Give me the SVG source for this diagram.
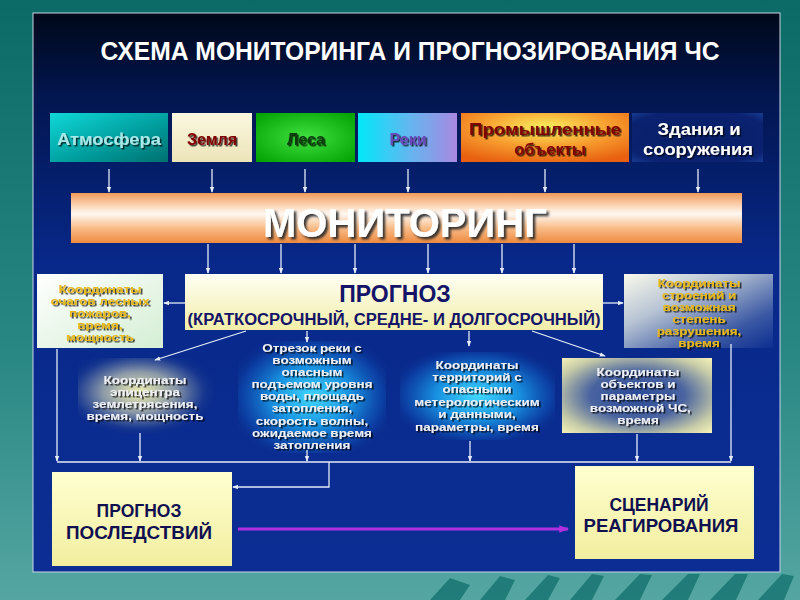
<svg xmlns="http://www.w3.org/2000/svg" width="800" height="600" viewBox="0 0 800 600">
<defs>
<style>
.t{font-family:"Liberation Sans",Arial,sans-serif;font-weight:bold;text-anchor:middle}
.c{stroke:#e4ecf8;stroke-width:1.3;fill:none}
.ca{stroke:#e4ecf8;stroke-width:1.3;fill:none;marker-end:url(#ah)}
.gold{fill:#e8b818;font-size:11.5px}
.wh{fill:#eef0f6;font-size:11.5px}
</style>
<linearGradient id="bg" x1="0" y1="0" x2="0" y2="1">
<stop offset="0" stop-color="#0c6a66"/><stop offset="0.6" stop-color="#2a8884"/><stop offset="1" stop-color="#55a6a2"/>
</linearGradient>
<linearGradient id="panel" x1="0" y1="0" x2="0" y2="1">
<stop offset="0" stop-color="#000818"/><stop offset="0.15" stop-color="#021650"/><stop offset="0.45" stop-color="#08288a"/><stop offset="1" stop-color="#0c2e94"/>
</linearGradient>
<linearGradient id="gAtm" x1="0" y1="0" x2="1" y2="1">
<stop offset="0" stop-color="#10d8d8"/><stop offset="0.6" stop-color="#009a9a"/><stop offset="1" stop-color="#007070"/>
</linearGradient>
<linearGradient id="gZem" x1="0" y1="0" x2="0" y2="1">
<stop offset="0" stop-color="#fbf8e0"/><stop offset="1" stop-color="#ece4b8"/>
</linearGradient>
<radialGradient id="gLes" cx="0.5" cy="0.5" r="0.7">
<stop offset="0" stop-color="#40e040"/><stop offset="1" stop-color="#00a000"/>
</radialGradient>
<linearGradient id="gRek" x1="0" y1="0" x2="1" y2="0">
<stop offset="0" stop-color="#00e8f8"/><stop offset="0.5" stop-color="#60b8f0"/><stop offset="1" stop-color="#a888e0"/>
</linearGradient>
<radialGradient id="gProm" cx="0.5" cy="0.3" r="0.75">
<stop offset="0" stop-color="#f8f060"/><stop offset="0.5" stop-color="#f8a030"/><stop offset="1" stop-color="#e86010"/>
</radialGradient>
<radialGradient id="gZd" cx="0.5" cy="0.5" r="0.7">
<stop offset="0" stop-color="#081e66"/><stop offset="0.8" stop-color="#0a2270"/><stop offset="1" stop-color="#183a90"/>
</radialGradient>
<linearGradient id="gMon" x1="0" y1="0" x2="0" y2="1">
<stop offset="0" stop-color="#f29a58"/><stop offset="0.3" stop-color="#fde0c8"/><stop offset="0.42" stop-color="#fff8f2"/><stop offset="0.7" stop-color="#f8bc88"/><stop offset="1" stop-color="#ee8a40"/>
</linearGradient>
<linearGradient id="gProg" x1="0" y1="0" x2="0" y2="1">
<stop offset="0" stop-color="#fffff4"/><stop offset="1" stop-color="#f2eea8"/>
</linearGradient>
<linearGradient id="gLeft" x1="0" y1="0" x2="1" y2="1">
<stop offset="0" stop-color="#ffffff"/><stop offset="1" stop-color="#d4eed4"/>
</linearGradient>
<linearGradient id="gRight" x1="0" y1="0" x2="1" y2="1">
<stop offset="0" stop-color="#fafaec"/><stop offset="0.35" stop-color="#b8c4d4"/><stop offset="0.75" stop-color="#3a58a4"/><stop offset="1" stop-color="#0c2e90"/>
</linearGradient>
<radialGradient id="gEpi" cx="0.45" cy="0.45" r="0.6">
<stop offset="0" stop-color="#f0f0b0"/><stop offset="0.45" stop-color="#8a98a8"/><stop offset="0.8" stop-color="#1a3a90" stop-opacity="0.8"/><stop offset="1" stop-color="#0a2a8c" stop-opacity="0"/>
</radialGradient>
<radialGradient id="gCyan" cx="0.5" cy="0.5" r="0.6">
<stop offset="0" stop-color="#40d8ff"/><stop offset="0.45" stop-color="#1890e0"/><stop offset="0.8" stop-color="#0c44a8" stop-opacity="0.8"/><stop offset="1" stop-color="#0a2a8c" stop-opacity="0"/>
</radialGradient>
<radialGradient id="gObj" cx="0.5" cy="0.5" r="0.7">
<stop offset="0" stop-color="#2a4a98"/><stop offset="0.45" stop-color="#4a64a0"/><stop offset="0.8" stop-color="#c8cca8"/><stop offset="1" stop-color="#f4f2b8"/>
</radialGradient>
<linearGradient id="gBot" x1="0" y1="0" x2="0" y2="1">
<stop offset="0" stop-color="#ffffd0"/><stop offset="1" stop-color="#f2eea0"/>
</linearGradient>
<filter id="sh" x="-10%" y="-20%" width="120%" height="150%">
<feDropShadow dx="1.5" dy="1.5" stdDeviation="0.5" flood-color="#000" flood-opacity="0.75"/>
</filter>
<filter id="shb" x="-10%" y="-20%" width="120%" height="150%">
<feDropShadow dx="2.5" dy="2.5" stdDeviation="0.8" flood-color="#202020" flood-opacity="0.9"/>
</filter>
<marker id="ah" viewBox="0 0 8 8" refX="7" refY="4" markerWidth="6" markerHeight="6" orient="auto" markerUnits="userSpaceOnUse">
<path d="M0,1 L8,4 L0,7 z" fill="#e4ecf8"/>
</marker>
<marker id="ahp" viewBox="0 0 8 8" refX="7" refY="4" markerWidth="10" markerHeight="10" orient="auto" markerUnits="userSpaceOnUse">
<path d="M0,1 L8,4 L0,7 z" fill="#b030e0"/>
</marker>
</defs>

<rect x="0" y="0" width="800" height="600" fill="url(#bg)"/>
<g id="decor" fill="#157370" opacity="0.8">
<polygon points="430,600 450,578 470,585 460,600"/>
<polygon points="480,600 500,576 515,580 505,600"/>
<polygon points="525,600 548,575 560,578 548,600"/>
<polygon points="570,600 592,574 604,576 592,600"/>
<polygon points="615,600 640,574 652,575 640,600"/>
<polygon points="662,600 688,574 700,574 688,600"/>
<polygon points="710,600 735,574 748,574 736,600"/>
<polygon points="758,600 782,574 794,576 784,600"/>
</g>
<rect x="33" y="13" width="747" height="559" fill="url(#panel)" stroke="#c8d4e4" stroke-width="1"/>

<text class="t" x="410" y="60" font-size="25" fill="#ffffff" textLength="619" lengthAdjust="spacingAndGlyphs">СХЕМА МОНИТОРИНГА И ПРОГНОЗИРОВАНИЯ ЧС</text>

<g id="atm"><rect x="50" y="113" width="118" height="49" fill="url(#gAtm)"/>
<text class="t" x="109" y="145" font-size="16" fill="#a8e8e8" filter="url(#sh)" textLength="104" lengthAdjust="spacingAndGlyphs">Атмосфера</text></g>
<g id="zem"><rect x="172" y="113" width="80" height="49" fill="url(#gZem)"/>
<text class="t" x="212" y="145" font-size="16" fill="#800000" filter="url(#sh)">Земля</text></g>
<g id="les"><rect x="256" y="113" width="99" height="49" fill="url(#gLes)"/>
<text class="t" x="306" y="145" font-size="16" fill="#0c3c0c" filter="url(#sh)">Леса</text></g>
<g id="reki"><rect x="358" y="113" width="99" height="49" fill="url(#gRek)"/>
<text class="t" x="408" y="145" font-size="16" fill="#6a48b8" filter="url(#sh)">Реки</text></g>
<g id="prom"><rect x="461" y="113" width="168" height="49" fill="url(#gProm)"/>
<text class="t" x="545" y="135" font-size="16.5" fill="#800000" filter="url(#sh)" textLength="152" lengthAdjust="spacingAndGlyphs">Промышленные</text>
<text class="t" x="550" y="155" font-size="16.5" fill="#800000" filter="url(#sh)">объекты</text></g>
<g id="zdan"><rect x="632" y="113" width="131" height="49" fill="url(#gZd)"/>
<text class="t" x="699" y="135" font-size="16.5" fill="#ffffff" filter="url(#sh)" textLength="83" lengthAdjust="spacingAndGlyphs">Здания и</text>
<text class="t" x="698" y="155" font-size="16.5" fill="#ffffff" filter="url(#sh)" textLength="110" lengthAdjust="spacingAndGlyphs">сооружения</text></g>

<g id="monitoring"><rect x="71" y="193" width="671" height="50" fill="url(#gMon)"/>
<text class="t" x="405" y="237" font-size="40" fill="#ffffff" filter="url(#shb)" textLength="284" lengthAdjust="spacingAndGlyphs">МОНИТОРИНГ</text></g>

<g id="prognoz"><rect x="185" y="274" width="418" height="56" fill="url(#gProg)"/>
<text class="t" x="395" y="302" font-size="23" fill="#141468">ПРОГНОЗ</text>
<text class="t" x="394" y="325" font-size="16" fill="#141468" textLength="413" lengthAdjust="spacingAndGlyphs">(КРАТКОСРОЧНЫЙ, СРЕДНЕ- И ДОЛГОСРОЧНЫЙ)</text></g>

<g id="lesnye"><rect x="37" y="274" width="126" height="74" fill="url(#gLeft)"/>
<g class="t gold" filter="url(#sh)" transform="translate(100,0) scale(1.17,1) translate(-100,0)">
<text x="100" y="293">Координаты</text>
<text x="100" y="305">очагов лесных</text>
<text x="100" y="317">пожаров,</text>
<text x="100" y="329">время,</text>
<text x="100" y="341">мощность</text></g></g>

<g id="stroeniya"><rect x="624" y="274" width="149" height="74" fill="url(#gRight)"/>
<g class="t gold" filter="url(#sh)" transform="translate(699,0) scale(1.17,1) translate(-699,0)">
<text x="699" y="287">Координаты</text>
<text x="699" y="299">строений и</text>
<text x="699" y="311">возможная</text>
<text x="699" y="323">степень</text>
<text x="699" y="335">разрушения,</text>
<text x="699" y="347">время</text></g></g>

<g id="epicentr"><rect x="78" y="358" width="136" height="76" fill="url(#gEpi)"/>
<g class="t wh" filter="url(#sh)" transform="translate(145,0) scale(1.17,1) translate(-145,0)">
<text x="145" y="384">Координаты</text>
<text x="145" y="396">эпицентра</text>
<text x="145" y="408">землетрясения,</text>
<text x="145" y="420">время, мощность</text></g></g>

<g id="otrezok"><rect x="238" y="341" width="148" height="112" fill="url(#gCyan)"/>
<g class="t wh" filter="url(#sh)" transform="translate(312,0) scale(1.17,1) translate(-312,0)">
<text x="312" y="352">Отрезок реки с</text>
<text x="312" y="364">возможным</text>
<text x="312" y="376">опасным</text>
<text x="312" y="388">подъемом уровня</text>
<text x="312" y="400">воды, площадь</text>
<text x="312" y="412">затопления,</text>
<text x="312" y="425">скорость волны,</text>
<text x="312" y="437">ожидаемое время</text>
<text x="312" y="449">затопления</text></g></g>

<g id="territorii"><rect x="400" y="352" width="155" height="88" fill="url(#gCyan)"/>
<g class="t wh" filter="url(#sh)" transform="translate(477,0) scale(1.17,1) translate(-477,0)">
<text x="477" y="369">Координаты</text>
<text x="477" y="381">территорий с</text>
<text x="477" y="393">опасными</text>
<text x="477" y="406">метерологическим</text>
<text x="477" y="418">и данными,</text>
<text x="477" y="431">параметры, время</text></g></g>

<g id="obekty"><rect x="562" y="358" width="150" height="75" fill="url(#gObj)"/>
<g class="t wh" filter="url(#sh)" transform="translate(638,0) scale(1.17,1) translate(-638,0)">
<text x="638" y="376">Координаты</text>
<text x="638" y="388">объектов и</text>
<text x="638" y="400">параметры</text>
<text x="640" y="412">возможной ЧС,</text>
<text x="638" y="424">время</text></g></g>

<g id="posledstviya"><rect x="52" y="472" width="180" height="94" fill="url(#gBot)"/>
<text class="t" x="139" y="517" font-size="17.5" fill="#101050">ПРОГНОЗ</text>
<text class="t" x="139" y="539" font-size="17.5" fill="#101050" textLength="146" lengthAdjust="spacingAndGlyphs">ПОСЛЕДСТВИЙ</text></g>

<g id="scenariy"><rect x="575" y="466" width="179" height="93" fill="url(#gBot)"/>
<text class="t" x="659" y="511" font-size="17.5" fill="#101050">СЦЕНАРИЙ</text>
<text class="t" x="661" y="532" font-size="17.5" fill="#101050" textLength="155" lengthAdjust="spacingAndGlyphs">РЕАГИРОВАНИЯ</text></g>

<g id="connectors">
<line class="ca" x1="109" y1="169" x2="109" y2="192"/>
<line class="ca" x1="212" y1="169" x2="212" y2="192"/>
<line class="ca" x1="305" y1="169" x2="305" y2="192"/>
<line class="ca" x1="408" y1="169" x2="408" y2="192"/>
<line class="ca" x1="545" y1="169" x2="545" y2="192"/>
<line class="ca" x1="698" y1="169" x2="698" y2="192"/>
<line class="ca" x1="208" y1="244" x2="208" y2="273"/>
<line class="ca" x1="281" y1="244" x2="281" y2="273"/>
<line class="ca" x1="355" y1="244" x2="355" y2="273"/>
<line class="ca" x1="428" y1="244" x2="428" y2="273"/>
<line class="ca" x1="502" y1="244" x2="502" y2="273"/>
<line class="ca" x1="574" y1="244" x2="574" y2="273"/>
<line class="ca" x1="185" y1="303" x2="164" y2="303"/>
<line class="ca" x1="603" y1="303" x2="623" y2="303"/>
<line class="ca" x1="246" y1="331" x2="155" y2="360"/>
<line class="ca" x1="307" y1="331" x2="307" y2="342"/>
<line class="ca" x1="469" y1="331" x2="469" y2="346"/>
<line class="ca" x1="532" y1="331" x2="605" y2="356"/>
<line class="ca" x1="57" y1="349" x2="57" y2="461"/>
<line class="ca" x1="140" y1="433" x2="140" y2="461"/>
<line class="ca" x1="307" y1="450" x2="307" y2="461"/>
<line class="ca" x1="470" y1="441" x2="470" y2="461"/>
<line class="ca" x1="637" y1="434" x2="637" y2="461"/>
<line class="ca" x1="731" y1="344" x2="731" y2="461"/>
<line class="c" x1="57" y1="462" x2="731" y2="462"/>
<polyline class="ca" points="329,462 329,487 233,487"/>
<line x1="238" y1="529" x2="568" y2="529" stroke="#b030e0" stroke-width="3" marker-end="url(#ahp)"/>
</g>
</svg>
